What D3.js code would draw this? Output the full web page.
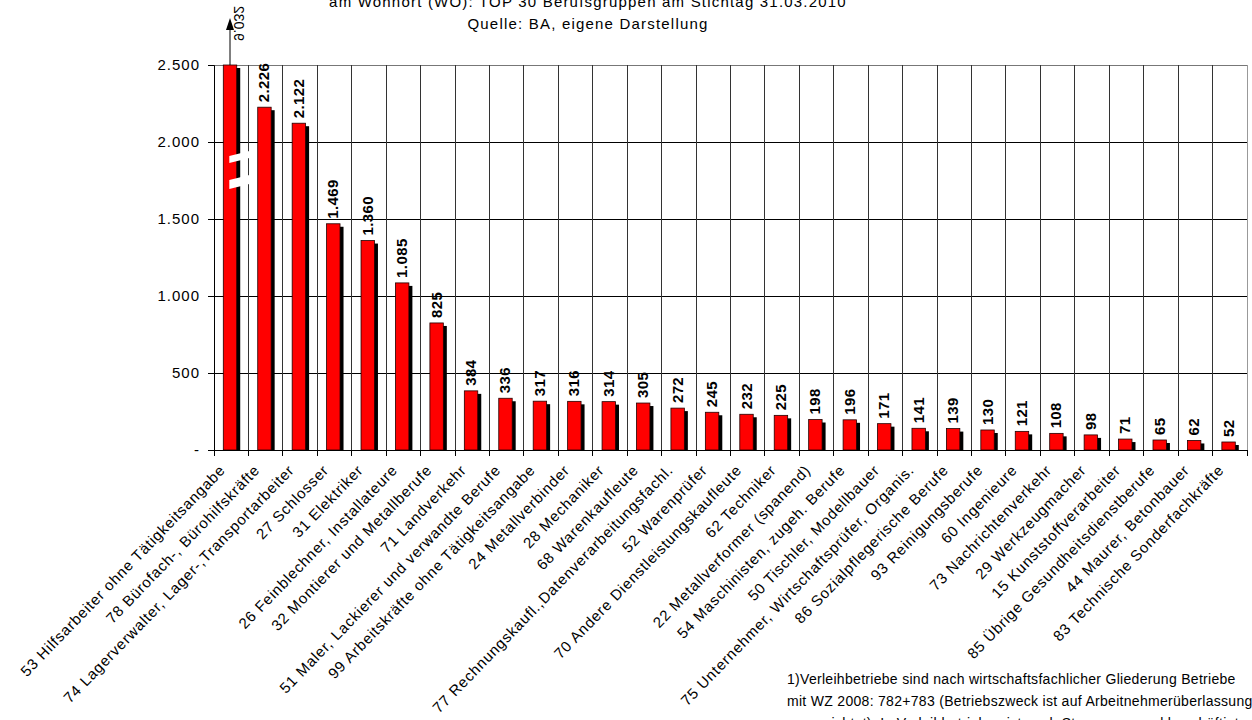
<!DOCTYPE html>
<html>
<head>
<meta charset="utf-8">
<script src="https://cdn.jsdelivr.net/npm/d3@7"></script>
<style>
  body { margin: 0; background: #fff; }
  svg { display: block; font-family: "Liberation Sans", Arial, sans-serif; }
</style>
</head>
<body>
<svg id="chart" width="1252" height="720"></svg>
<script>
const categories = [
  "53 Hilfsarbeiter ohne Tätigkeitsangabe",
  "78 Bürofach-, Bürohilfskräfte",
  "74 Lagerverwalter, Lager-,Transportarbeiter",
  "27 Schlosser",
  "31 Elektriker",
  "26 Feinblechner, Installateure",
  "32 Montierer und Metallberufe",
  "71 Landverkehr",
  "51 Maler, Lackierer und verwandte Berufe",
  "99 Arbeitskräfte ohne Tätigkeitsangabe",
  "24 Metallverbinder",
  "28 Mechaniker",
  "68 Warenkaufleute",
  "77 Rechnungskaufl.,Datenverarbeitungsfachl.",
  "52 Warenprüfer",
  "70 Andere Dienstleistungskaufleute",
  "62 Techniker",
  "22 Metallverformer (spanend)",
  "54 Maschinisten, zugeh. Berufe",
  "50 Tischler, Modellbauer",
  "75 Unternehmer, Wirtschaftsprüfer, Organis.",
  "86 Sozialpflegerische Berufe",
  "93 Reinigungsberufe",
  "60 Ingenieure",
  "73 Nachrichtenverkehr",
  "29 Werkzeugmacher",
  "15 Kunststoffverarbeiter",
  "85 Übrige Gesundheitsdienstberufe",
  "44 Maurer, Betonbauer",
  "83 Technische Sonderfachkräfte"
];

const values = [9032, 2226, 2122, 1469, 1360, 1085, 825, 384, 336, 317, 316, 314, 305, 272,
  245, 232, 225, 198, 196, 171, 141, 139, 130, 121, 108, 98, 71, 65, 62, 52];

const yTicks = [0, 500, 1000, 1500, 2000, 2500];
const yMax = 2500;
const breakValues = [1942, 1786];

const titleLines = [
  "am Wohnort (WO):   TOP 30 Berufsgruppen am Stichtag 31.03.2010",
  "Quelle: BA, eigene Darstellung"
];

const footnoteLines = [
  "1)Verleihbetriebe sind nach wirtschaftsfachlicher Gliederung Betriebe",
  "mit WZ 2008: 782+783 (Betriebszweck ist auf Arbeitnehmerüberlassung",
  "ausgerichtet).  In Verleihbetrieben ist auch Stammpersonal beschäftigt."
];

const de = d3.formatLocale({ decimal: ",", thousands: ".", grouping: [3], currency: ["", " €"] });
const fmt = de.format(",d");

const svg = d3.select("#chart");
const plotLeft = 214, plotRight = 1247, plotTop = 65, plotBottom = 450;

const x = d3.scaleBand().domain(categories).range([plotLeft, plotRight]).padding(0);
const y = d3.scaleLinear().domain([0, yMax]).range([plotBottom, plotTop]);
const bw = x.bandwidth();
const barX = d => x(d) + bw * 0.27;
const barW = bw * 0.39;

// horizontal grid
svg.append("g")
  .selectAll("line")
  .data(yTicks.filter(t => t > 0))
  .join("line")
  .attr("x1", plotLeft).attr("x2", plotRight)
  .attr("y1", d => y(d)).attr("y2", d => y(d))
  .attr("stroke", d => d === yMax ? "#777" : "#000")
  .attr("stroke-width", 1)
  .attr("shape-rendering", "crispEdges");

// vertical grid at category boundaries
const bounds = categories.map(c => x(c)).concat([plotRight]);
svg.append("g")
  .selectAll("line")
  .data(bounds.slice(1))
  .join("line")
  .attr("x1", d => d).attr("x2", d => d)
  .attr("y1", plotTop).attr("y2", plotBottom)
  .attr("stroke", (d, i) => i === bounds.length - 2 ? "#999" : "#333")
  .attr("stroke-width", 1)
  .attr("shape-rendering", "crispEdges");

// bars with shadow
const data = categories.map((c, i) => ({ cat: c, value: values[i] }));
const bars = svg.append("g");
bars.selectAll("rect.shadow")
  .data(data)
  .join("rect")
  .attr("class", "shadow")
  .attr("x", d => barX(d.cat) + 3.5)
  .attr("y", d => y(Math.min(d.value, yMax)) + 3)
  .attr("width", barW)
  .attr("height", d => Math.max(0, plotBottom - y(Math.min(d.value, yMax)) - 3))
  .attr("fill", "#000");
bars.selectAll("rect.bar")
  .data(data)
  .join("rect")
  .attr("class", "bar")
  .attr("x", d => barX(d.cat))
  .attr("y", d => y(Math.min(d.value, yMax)))
  .attr("width", barW)
  .attr("height", d => plotBottom - y(Math.min(d.value, yMax)))
  .attr("fill", "#ff0000")
  .attr("stroke", "#200")
  .attr("stroke-width", 0.8);

// axis break on the first bar
const bx = barX(categories[0]) + 6;
const bEnd = x(categories[1]) + 1;
breakValues.forEach((v, i) => {
  const yy = y(v);
  const th = i === 0 ? 7 : 9;
  svg.append("path")
    .attr("d", `M${bx},${yy + 5} L${bEnd},${yy} L${bEnd},${yy + th} L${bx},${yy + 5 + th} Z`)
    .attr("fill", "#fff");
});

// arrow for the out-of-range bar
const cx0 = barX(categories[0]) + barW / 2;
svg.append("line")
  .attr("x1", cx0).attr("x2", cx0)
  .attr("y1", y(yMax)).attr("y2", y(yMax) - 38)
  .attr("stroke", "#000").attr("stroke-width", 1);
svg.append("path")
  .attr("d", `M${cx0},${y(yMax) - 47} L${cx0 - 4},${y(yMax) - 35} L${cx0 + 4},${y(yMax) - 35} Z`)
  .attr("fill", "#000");
svg.append("text")
  .attr("transform", `translate(${cx0 + 4},${y(yMax) - 24}) rotate(90) scale(-1,1)`)
  .attr("font-size", 14)
  .text(fmt(values[0]));

// value labels
svg.append("g")
  .selectAll("text")
  .data(data.slice(1))
  .join("text")
  .attr("transform", d => `translate(${barX(d.cat) + barW / 2 + 5},${y(d.value) - 5}) rotate(-90)`)
  .attr("font-size", 15)
  .attr("font-weight", "bold")
  .attr("letter-spacing", 0.4)
  .text(d => fmt(d.value));

// y axis
const yAxis = svg.append("g")
  .attr("transform", `translate(${plotLeft},0)`)
  .call(d3.axisLeft(y).tickValues(yTicks).tickSize(6).tickPadding(8)
    .tickFormat(d => d === 0 ? "-" : fmt(d)));
yAxis.select(".domain").attr("stroke", "#000");
yAxis.selectAll("text")
  .attr("font-size", 15)
  .attr("letter-spacing", 1)
  .attr("font-family", "Liberation Sans, Arial, sans-serif")
  .attr("fill", "#000");

// x axis line + boundary ticks
svg.append("line")
  .attr("x1", plotLeft).attr("x2", plotRight)
  .attr("y1", plotBottom).attr("y2", plotBottom)
  .attr("stroke", "#000").attr("shape-rendering", "crispEdges");
svg.append("g")
  .selectAll("line")
  .data(bounds)
  .join("line")
  .attr("x1", d => d).attr("x2", d => d)
  .attr("y1", plotBottom).attr("y2", plotBottom + 6)
  .attr("stroke", "#000").attr("shape-rendering", "crispEdges");

// category labels
svg.append("g")
  .selectAll("text")
  .data(categories)
  .join("text")
  .attr("transform", d => `translate(${x(d) + bw / 2 - 5},${plotBottom + 21}) rotate(-46)`)
  .attr("text-anchor", "end")
  .attr("font-size", 15)
  .attr("letter-spacing", 0.8)
  .text(d => d);

// title
svg.append("g")
  .selectAll("text")
  .data(titleLines)
  .join("text")
  .attr("x", 588)
  .attr("y", (d, i) => 7 + i * 22)
  .attr("text-anchor", "middle")
  .attr("font-size", 15)
  .attr("letter-spacing", 1.2)
  .text(d => d);

// footnote
svg.append("g")
  .selectAll("text")
  .data(footnoteLines)
  .join("text")
  .attr("x", 787)
  .attr("y", (d, i) => 684 + i * 22)
  .attr("font-size", 14)
  .attr("letter-spacing", 0.3)
  .text(d => d);
</script>
</body>
</html>
